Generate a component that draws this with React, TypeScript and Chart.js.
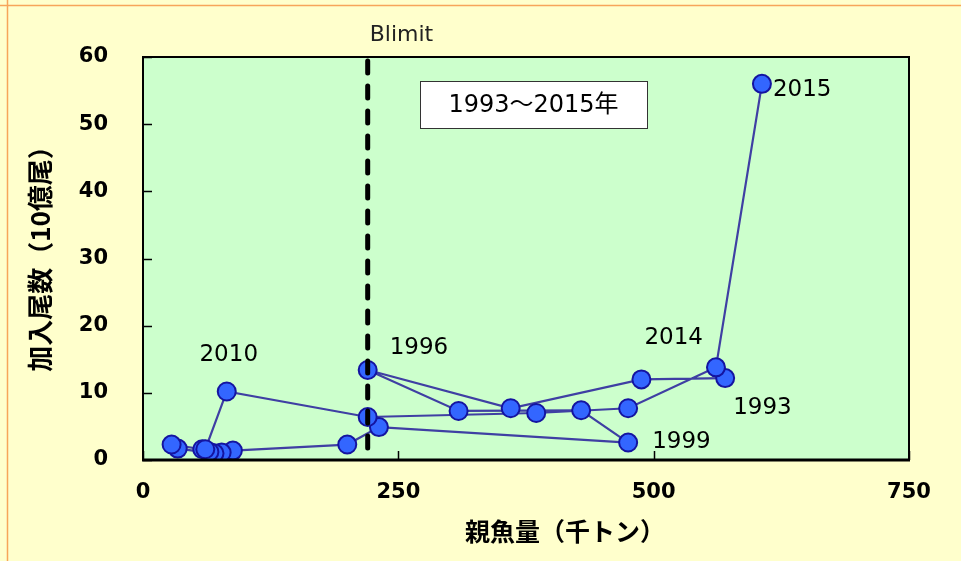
import { useEffect, useRef } from 'react';
import { Chart, registerables } from 'chart.js';

Chart.register(...registerables);

const years = [1993, 1994, 1995, 1996, 1997, 1998, 1999, 2000, 2001, 2002, 2003, 2004, 2005, 2006, 2007, 2008, 2009, 2010, 2011, 2012, 2013, 2014, 2015];
const ssb = [570, 488, 360, 220, 309, 429, 475, 231, 200, 88, 77, 70, 34, 28, 58, 65, 61, 82, 220, 385, 475, 561, 606];
const recruits = [12.2, 12.0, 7.7, 13.4, 7.3, 7.4, 2.6, 4.9, 2.3, 1.4, 1.1, 1.0, 1.7, 2.3, 1.6, 1.2, 1.6, 10.2, 6.4, 7.0, 7.7, 13.8, 56.0];
const xTicks = [0, 250, 500, 750];
const yTicks = [0, 10, 20, 30, 40, 50, 60];
const labelledYears = [1993, 1996, 1999, 2010, 2014, 2015];
const blimitValue = 220;
const blimitText = 'Blimit';
const periodText = '1993～2015年';
const xTitle = '親魚量（千トン）';
const yTitle = '加入尾数（10億尾）';

// label placement relative to the point (pixels) and alignment
const labelPlacement: Record<number, [number, number, CanvasTextAlign]> = {
  1993: [8, 30, 'left'],
  1996: [22, -22, 'left'],
  1999: [24, -1, 'left'],
  2010: [2, -36, 'center'],
  2014: [-13, -29, 'right'],
  2015: [11, 6, 'left'],
};

const DIGIT_FONT = '23px "DejaVu Sans", "Noto Sans CJK JP", sans-serif';

const decorPlugin = {
  id: 'decor',
  beforeDraw(chart: any) {
    const { ctx, width, height, chartArea } = chart;
    ctx.save();
    ctx.fillStyle = '#FFFFCC';
    ctx.fillRect(0, 0, width, height);
    ctx.strokeStyle = '#F7A55A';
    ctx.lineWidth = 1.5;
    ctx.beginPath();
    ctx.moveTo(0, 5.5);
    ctx.lineTo(width, 5.5);
    ctx.moveTo(7.5, 0);
    ctx.lineTo(7.5, height);
    ctx.stroke();
    ctx.fillStyle = '#CCFFCC';
    ctx.fillRect(chartArea.left, chartArea.top, chartArea.right - chartArea.left, chartArea.bottom - chartArea.top);
    ctx.restore();
  },
  afterDatasetsDraw(chart: any) {
    const { ctx, chartArea, scales } = chart;
    const xs = scales.x;
    const ys = scales.y;
    const { left, right, top, bottom } = chartArea;
    ctx.save();

    // Blimit dashed line
    const bx = xs.getPixelForValue(blimitValue);
    ctx.strokeStyle = '#000';
    ctx.lineWidth = 5;
    ctx.lineCap = 'round';
    ctx.setLineDash([12, 13]);
    ctx.beginPath();
    ctx.moveTo(bx, top + 4);
    ctx.lineTo(bx, bottom);
    ctx.stroke();
    ctx.setLineDash([]);
    ctx.lineCap = 'butt';

    // plot border
    ctx.strokeStyle = '#000';
    ctx.lineWidth = 2;
    ctx.strokeRect(left, top, right - left, bottom - top);
    ctx.lineWidth = 3;
    ctx.beginPath();
    ctx.moveTo(left - 1, bottom);
    ctx.lineTo(right + 1, bottom);
    ctx.stroke();

    // inner tick marks
    ctx.lineWidth = 1.5;
    ctx.beginPath();
    yTicks.forEach((v) => {
      const py = Math.round(ys.getPixelForValue(v)) + 0.5;
      ctx.moveTo(left, py);
      ctx.lineTo(left + 9, py);
    });
    xTicks.forEach((v) => {
      const px = Math.round(xs.getPixelForValue(v)) + 0.5;
      ctx.moveTo(px, bottom);
      ctx.lineTo(px, bottom - 9);
    });
    ctx.stroke();

    // year labels
    ctx.fillStyle = '#000';
    ctx.font = DIGIT_FONT;
    ctx.textBaseline = 'middle';
    labelledYears.forEach((yr) => {
      const i = years.indexOf(yr);
      const [dx, dy, align] = labelPlacement[yr];
      ctx.textAlign = align;
      ctx.fillText(String(yr), xs.getPixelForValue(ssb[i]) + dx, ys.getPixelForValue(recruits[i]) + dy);
    });

    // Blimit label
    ctx.textAlign = 'left';
    ctx.font = '22px "DejaVu Sans", sans-serif';
    ctx.fillStyle = '#222';
    ctx.fillText(blimitText, bx + 2, top - 22);

    // period box
    const boxL = 420, boxT = 81, boxW = 227, boxH = 47;
    ctx.fillStyle = '#fff';
    ctx.fillRect(boxL, boxT, boxW, boxH);
    ctx.strokeStyle = '#333';
    ctx.lineWidth = 1;
    ctx.strokeRect(boxL + 0.5, boxT + 0.5, boxW, boxH);
    ctx.fillStyle = '#000';
    ctx.textAlign = 'center';
    ctx.font = '24px "DejaVu Sans", "Noto Sans CJK JP", sans-serif';
    ctx.fillText(periodText, boxL + boxW / 2, boxT + boxH / 2 + 1);

    // axis titles
    ctx.fillStyle = '#000';
    ctx.textAlign = 'center';
    ctx.font = 'bold 25px "Noto Sans CJK JP", "DejaVu Sans", sans-serif';
    ctx.fillText(xTitle, 565, 531);
    ctx.font = 'bold 26px "Noto Sans CJK JP", "DejaVu Sans", sans-serif';
    ctx.translate(40, (top + bottom) / 2 - 6);
    ctx.rotate(-Math.PI / 2);
    ctx.fillText(yTitle, 0, 0);

    ctx.restore();
  },
};

export default function App() {
  const canvasRef = useRef<HTMLCanvasElement | null>(null);

  useEffect(() => {
    if (!canvasRef.current) return;
    const points = ssb.map((x, i) => ({ x, y: recruits[i] }));
    const chart = new Chart(canvasRef.current, {
      type: 'scatter',
      data: {
        datasets: [
          {
            label: 'SR',
            data: points,
            showLine: true,
            borderColor: '#3F3FA3',
            borderWidth: 2.2,
            pointBackgroundColor: '#3366FF',
            pointBorderColor: '#1414A0',
            pointBorderWidth: 2,
            pointRadius: 9,
            tension: 0,
          },
        ],
      },
      options: {
        animation: false,
        responsive: true,
        maintainAspectRatio: false,
        layout: { padding: { top: 57, right: 52, left: 0, bottom: 0 } },
        plugins: {
          legend: { display: false },
          tooltip: { enabled: false },
        },
        scales: {
          x: {
            type: 'linear',
            min: 0,
            max: 750,
            afterBuildTicks: (s: any) => {
              s.ticks = xTicks.map((v) => ({ value: v }));
            },
            afterFit: (s: any) => {
              s.height = 101;
            },
            grid: { display: false, drawTicks: false },
            border: { display: false },
            ticks: {
              padding: 20,
              color: '#000',
              font: { family: '"DejaVu Sans"', size: 21, weight: 'bold' },
              maxRotation: 0,
            },
          },
          y: {
            type: 'linear',
            min: 0,
            max: 60,
            afterBuildTicks: (s: any) => {
              s.ticks = yTicks.map((v) => ({ value: v }));
            },
            afterFit: (s: any) => {
              s.width = 143;
            },
            grid: { display: false, drawTicks: false },
            border: { display: false },
            ticks: {
              padding: 35,
              color: '#000',
              font: { family: '"DejaVu Sans"', size: 21, weight: 'bold' },
            },
          },
        },
      },
      plugins: [decorPlugin],
    });
    return () => chart.destroy();
  }, []);

  return (
    <div style={{ position: 'fixed', left: 0, top: 0, width: 961, height: 561, background: '#FFFFCC' }}>
      <canvas ref={canvasRef} />
    </div>
  );
}
